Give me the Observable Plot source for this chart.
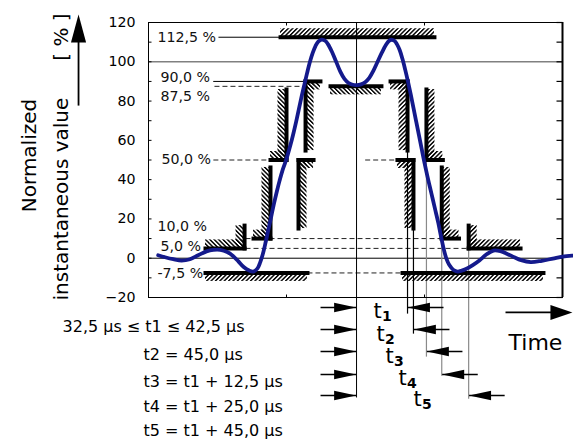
<!DOCTYPE html>
<html><head><meta charset="utf-8">
<script src="https://cdn.jsdelivr.net/npm/d3@7"></script>
<script src="https://cdn.jsdelivr.net/npm/@observablehq/plot@0.6"></script>
<style>body{margin:0;background:#fff;} svg{display:block}</style>
</head><body><div id="chart"></div>
<script>
// ---------- data (time in µs-like units, value in %) ----------
const curveT = [7,12,18,24,30,36,42,47,52,57,61,65,69,73,76,79,81,83,85,87,89,91,93,95,97,99,101,103,105,107,109,111,113,115,117,119,121,123,125.5,128,130,133,136,139,142,145,148,151,154,157,160,163,166,169,172,174.5,176.5,178.5,180,182,184,186,188,190,192,194,196,198,200,202,204,206,208,210,212,214,216,218,221,224,227,230,235,240,245,250,255,260,265,270,277,285,293,300,307];
const curveV = [1.5,0.5,-0.5,-1.2,-0.5,1.5,3.5,4.3,4.3,3.2,1.3,-1.5,-4.5,-6.3,-6.8,-5.2,-2,2.5,8.5,15,21.5,28,34,39.5,44.5,48.5,53,58,63.5,69.5,76,82.5,88.5,94.5,100,104.5,108,110.3,111.3,110.7,109,105,100,95,91.3,89.2,88.3,88.1,88.5,89.6,91.8,95.5,100,104.5,108.5,110.8,111.2,110.5,109,106,101.5,96,90,83.5,76.5,69.5,62.5,55.5,48.5,42,36,30,24,18,11,4.5,-0.5,-3.5,-6,-6.8,-6.3,-5.5,-3.5,-1,2,3.9,3.6,2.2,0.5,-1,-2,-1.3,-0.2,0.8,1.3];

const yTickLabels = [-20,0,20,40,60,80,100,120];
const yMinorTicks = [-20,-10,0,10,20,30,40,50,60,70,80,90,100,110,120];
const xTicks = [100,200];

// mask: horizontal bars
const maskH = [
  {x1:95.7, x2:207.2, y:112.5, side:"above", dir:"/"},
  {x1:41.3, x2:115.2, y:-7.5, side:"below", dir:"/"},
  {x1:184.1, x2:286.2, y:-7.5, side:"below", dir:"/"},
  {x1:41.3, x2:69.6, y:5, side:"above", dir:"\\"},
  {x1:76.1, x2:88.4, y:10, side:"above", dir:"\\"},
  {x1:88.4, x2:100, y:50, side:"above", dir:"\\"},
  {x1:108.7, x2:119.6, y:50, side:"below", dir:"\\"},
  {x1:113.8, x2:124.6, y:90, side:"below", dir:"\\"},
  {x1:131.9, x2:168.8, y:87.5, side:"below", dir:"\\"},
  {x1:175.4, x2:187.7, y:90, side:"below", dir:"/"},
  {x1:180.4, x2:192, y:50, side:"below", dir:"/"},
  {x1:201.4, x2:213.3, y:50, side:"above", dir:"/"},
  {x1:212.5, x2:225, y:10, side:"above", dir:"/"},
  {x1:232, x2:269.6, y:5, side:"above", dir:"/"}
];
// mask: vertical bars
const maskV = [
  {x:69.6, y1:5, y2:16.6, side:"left", dir:"\\"},
  {x:88.4, y1:10, y2:46.2, side:"left", dir:"\\"},
  {x:100, y1:50, y2:85.9, side:"left", dir:"\\"},
  {x:108.7, y1:15.1, y2:50, side:"right", dir:"\\"},
  {x:113.8, y1:54.8, y2:90, side:"right", dir:"\\"},
  {x:187.7, y1:54.8, y2:90, side:"left", dir:"/"},
  {x:192, y1:15.1, y2:50, side:"left", dir:"/"},
  {x:201.4, y1:50, y2:85.9, side:"right", dir:"/"},
  {x:212.5, y1:10, y2:46.2, side:"right", dir:"/"},
  {x:232, y1:5, y2:16.6, side:"right", dir:"/"}
];

// level labels and leader lines
const levelLabels = ["112,5 %","90,0 %","87,5 %","50,0 %","10,0 %","5,0 %","-7,5 %"];
const levelLabelX = [6.5, 8.7, 8.7, 9.4, 6.5, 8.7, 6.5];
const levelLabelY = [112.3, 92.2, 82.3, 50.2, 16.1, 6.0, -7.8];
const solidLeaders = [{x1:50.7, x2:95.7, y:112.5},{x1:46.9, x2:113.8, y:90}];
const dashedLeaders = [
  {x1:47.8, x2:112, y:87.5},
  {x1:47, x2:88.4, y:50},
  {x1:157, x2:180.4, y:50},
  {x1:70.3, x2:212.5, y:10},
  {x1:70.3, x2:232, y:5},
  {x1:115.2, x2:184.1, y:-7.5}
];
const fullLines = [{y:100, c:"#808080", w:1.6},{y:0, c:"black", w:1}];

// time markers
const centerT = 150.75;
const tLineX = [187.7, 192, 201.4, 212.5, 232];
const tLineTop = [54.8, 15.1, 50, 10, 5];
const tLineBottom = [-28.2, -38.4, -50.1, -59.8, -71.5];
const arrowRows = [-25.1, -36.3, -47.5, -59.2, -69.9];
const tLabelX = [163, 165.2, 171.7, 181.2, 192];
const tLabelBase = [-30.3, -41.9, -53.1, -64.3, -75];
const tSubs = ["1","2","3","4","5"];

const condLines = ["32,5 µs ≤ t1 ≤ 42,5 µs","t2 = 45,0 µs","t3 = t1 + 12,5 µs","t4 = t1 + 25,0 µs","t5 = t1 + 45,0 µs"];
const condX = [-62.3, -3.6, -3.6, -3.6, -3.6];
const condY = [-35.1, -49.0, -63.1, -75.8, -87.8];

const yLabelLines = ["Normalized", "instantaneous value", "[ % ]"];
const yLabelX = [-86.5, -63.3, -63.3];
const yLabelY = [52.3, 30.1, 112.6];

// ---------- layout ----------
const W = 573, H = 439, mL = 148, mR = 11, mT = 22, mB = 142;
const xDom = [0, 300], yDom = [-20, 120];
const pxU = (W - mL - mR) / (xDom[1] - xDom[0]);
const pxV = (H - mT - mB) / (yDom[1] - yDom[0]);
const hu = 8.5 / pxU, hv = 8.5 / pxV;

const hatchRects = [
  ...maskH.map(d => ({x1:d.x1, x2:d.x2, y1: d.side==="above" ? d.y : d.y - hv, y2: d.side==="above" ? d.y + hv : d.y, dir:d.dir})),
  ...maskV.map(d => ({x1: d.side==="left" ? d.x - hu : d.x, x2: d.side==="left" ? d.x : d.x + hu, y1:d.y1, y2:d.y2, dir:d.dir}))
];

const curve = curveT.map((t,i) => ({t, v: curveV[i]}));
const tLines = tLineX.map((x,i) => ({x, y1: tLineTop[i], y2: tLineBottom[i], i}));
const leftArrows = arrowRows.map(y => ({x1: centerT - 36/pxU, x2: centerT - 0.3, y}));
const rightArrows = arrowRows.map((y,i) => ({x1: tLineX[i] + 36/pxU, x2: tLineX[i] + 0.3, y}));

const head = (ratio) => ({draw(ctx, size){ const L = Math.sqrt(size/Math.PI), w = L*ratio; ctx.moveTo(0,0); ctx.lineTo(-L,-w); ctx.lineTo(-L,w); ctx.closePath(); }});
const tickSym = {draw(ctx, size){ const L = Math.sqrt(size/Math.PI); ctx.moveTo(0,0); ctx.lineTo(L,0); }};

const font = "DejaVu Sans";
const svg = Plot.plot({
  width: W, height: H, marginLeft: mL, marginRight: mR, marginTop: mT, marginBottom: mB,
  x: {domain: xDom, axis: null},
  y: {domain: yDom, axis: null},
  style: {fontFamily: font, fontSize: "14px", background: "white", color: "black", overflow: "visible"},
  marks: [
    Plot.ruleY(fullLines, {y: "y", stroke: "c", strokeWidth: "w"}),
    Plot.link(solidLeaders, {x1:"x1", x2:"x2", y1:"y", y2:"y", stroke:"black", strokeWidth:1}),
    Plot.link(dashedLeaders, {x1:"x1", x2:"x2", y1:"y", y2:"y", stroke:"#222", strokeWidth:1, strokeDasharray:"5,3"}),
    Plot.link([{x: centerT, y1: yDom[1], y2: -70.9}], {x1:"x", x2:"x", y1:"y1", y2:"y2", stroke:"black", strokeWidth:1}),
    Plot.link(tLines, {x1:"x", x2:"x", y1:"y1", y2:"y2", stroke: d => d.i < 2 ? "black" : "#8a8a8a", strokeWidth: 1.2}),
    Plot.rect(hatchRects.filter(d => d.dir === "/"), {x1:"x1", x2:"x2", y1:"y1", y2:"y2", fill:"url(#hatchF)"}),
    Plot.rect(hatchRects.filter(d => d.dir !== "/"), {x1:"x1", x2:"x2", y1:"y1", y2:"y2", fill:"url(#hatchB)"}),
    Plot.link(maskH, {x1:"x1", x2:"x2", y1:"y", y2:"y", stroke:"black", strokeWidth:4, strokeLinecap:"square"}),
    Plot.link(maskV, {x1:"x", x2:"x", y1:"y1", y2:"y2", stroke:"black", strokeWidth:4, strokeLinecap:"square"}),
    Plot.frame({stroke: "black", strokeWidth: 1}),
    Plot.ruleX([xDom[1]], {y1: yDom[0], y2: yDom[1], stroke: "black", strokeWidth: 2}),
    Plot.dot(yMinorTicks, {x: xDom[0], y: d => d, symbol: tickSym, r: 3, stroke: "black", fill: "none", strokeWidth: 1}),
    Plot.dot(yMinorTicks, {x: xDom[1], y: d => d, symbol: tickSym, r: 6, rotate: 180, stroke: "black", fill: "none", strokeWidth: 1.2}),
    Plot.dot(xTicks, {x: d => d, y: yDom[0], symbol: tickSym, r: 3, rotate: -90, stroke: "black", fill: "none", strokeWidth: 1}),
    Plot.dot(xTicks, {x: d => d, y: yDom[1], symbol: tickSym, r: 3, rotate: 90, stroke: "black", fill: "none", strokeWidth: 1}),
    Plot.axisY(yTickLabels, {anchor: "left", tickSize: 0, tickPadding: 13, fontSize: 14.2, label: null}),
    Plot.line(curve, {x: "t", y: "v", stroke: "#141a8c", strokeWidth: 3.8, curve: "catmull-rom"}),
    Plot.text(levelLabels, {x: (d,i) => levelLabelX[i], y: (d,i) => levelLabelY[i], text: d => d, textAnchor: "start", fontSize: 14.2, fill: "#111"}),
    Plot.link(leftArrows, {x1:"x1", x2:"x2", y1:"y", y2:"y", stroke:"black", strokeWidth:1.7}),
    Plot.dot(leftArrows, {x:"x2", y:"y", symbol: head(0.22), r: 22, fill:"black", stroke:"none"}),
    Plot.link(rightArrows, {x1:"x1", x2:"x2", y1:"y", y2:"y", stroke:"black", strokeWidth:1.7}),
    Plot.dot(rightArrows, {x:"x2", y:"y", symbol: head(0.22), r: 22, rotate: 180, fill:"black", stroke:"none"}),
    Plot.text(tSubs, {x: (d,i) => tLabelX[i], y: (d,i) => tLabelBase[i], text: () => "t", textAnchor: "start", lineAnchor: "bottom", fontSize: 21}),
    Plot.text(tSubs, {x: (d,i) => tLabelX[i], y: (d,i) => tLabelBase[i], text: d => d, textAnchor: "start", lineAnchor: "bottom", fontSize: 14, fontWeight: "bold", dx: 8.5, dy: 3}),
    Plot.text(condLines, {x: (d,i) => condX[i], y: (d,i) => condY[i], text: d => d, textAnchor: "start", fontSize: 16}),
    Plot.link([{x1: 258.7, x2: 300, y: -27.6}], {x1:"x1", x2:"x2", y1:"y", y2:"y", stroke:"black", strokeWidth:1.8}),
    Plot.dot([{x: 307.2, y: -27.6}], {x:"x", y:"y", symbol: head(0.34), r: 22, fill:"black", stroke:"none"}),
    Plot.text(["Time"], {x: 260.9, y: -42.9, text: d => d, textAnchor: "start", fontSize: 22}),
    Plot.text(yLabelLines, {x: (d,i) => yLabelX[i], y: (d,i) => yLabelY[i], text: d => d, rotate: -90, fontSize: 20}),
    Plot.link([{x: -50.7, y1: 77.7, y2: 112}], {x1:"x", x2:"x", y1:"y1", y2:"y2", stroke:"black", strokeWidth:1.8}),
    Plot.dot([{x: -50.7, y: 124.1}], {x:"x", y:"y", symbol: head(0.27), r: 28, rotate: -90, fill:"black", stroke:"none"})
  ]
});

const defs = d3.select(svg).insert("defs", ":first-child");
[["hatchF", 45], ["hatchB", -45]].forEach(([id, ang]) => {
  const p = defs.append("pattern").attr("id", id).attr("patternUnits", "userSpaceOnUse")
    .attr("width", 3.1).attr("height", 10).attr("patternTransform", `rotate(${ang})`);
  p.append("rect").attr("x", 0).attr("y", 0).attr("width", 1.45).attr("height", 10).attr("fill", "black");
});
document.getElementById("chart").appendChild(svg);
</script>
</body></html>
